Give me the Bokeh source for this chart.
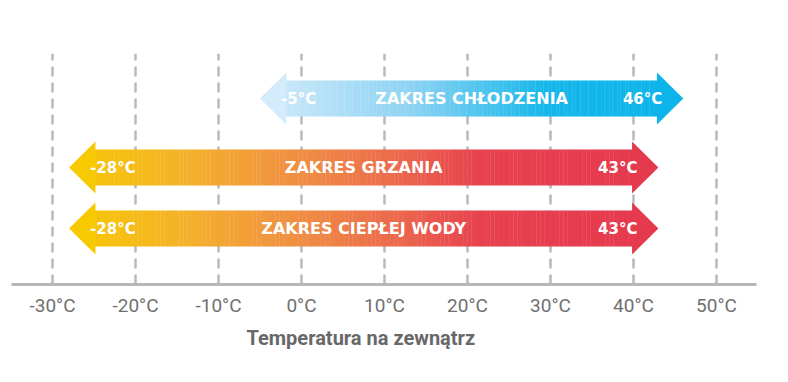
import numpy as np
from bokeh.plotting import figure
from bokeh.models import Range1d, FixedTicker, Title
from bokeh.core.properties import value
from bokeh.embed import file_html
from bokeh.resources import INLINE

# ---------------- data ----------------
tick_values = [-30, -20, -10, 0, 10, 20, 30, 40, 50]
tick_labels = ["-30°C", "-20°C", "-10°C", "0°C", "10°C", "20°C", "30°C", "40°C", "50°C"]

range_names = ["ZAKRES CHŁODZENIA", "ZAKRES GRZANIA", "ZAKRES CIEPŁEJ WODY"]
range_min = [-5, -28, -28]
range_max = [46, 43, 43]
min_labels = ["-5°C", "-28°C", "-28°C"]
max_labels = ["46°C", "43°C", "43°C"]
axis_title = "Temperatura na zewnątrz"

# ---------------- style / layout ----------------
X_START, X_END = -34.94, 54.82
FRAME_W, FRAME_H = 745, 231
row_y = [186, 117, 56]          # vertical centre of each arrow (px above axis)
BODY_HALF = 18
HEAD_HALF = 26
HEAD_LEN_PX = 26
LABEL_PAD_PX = 21

px_per_deg = FRAME_W / (X_END - X_START)
head_len = HEAD_LEN_PX / px_per_deg
label_pad = LABEL_PAD_PX / px_per_deg

blue_stops = [(0.0, "#d3ebfa"), (0.35, "#8fd3f3"), (0.68, "#14b7ea"), (1.0, "#0db4ea")]
warm_stops = [(0.0, "#f7c900"), (0.2, "#f4b12b"), (0.4, "#ef8c44"), (0.55, "#ec6a4c"),
              (0.7, "#e7414f"), (1.0, "#e5394e")]
row_stops = [blue_stops, warm_stops, warm_stops]


def hex2rgb(h):
    h = h.lstrip("#")
    return np.array([int(h[i:i + 2], 16) for i in (0, 2, 4)], dtype=float)


def color_at(stops, t):
    t = min(max(t, 0.0), 1.0)
    for (t0, c0), (t1, c1) in zip(stops[:-1], stops[1:]):
        if t <= t1:
            f = 0 if t1 == t0 else (t - t0) / (t1 - t0)
            c = hex2rgb(c0) * (1 - f) + hex2rgb(c1) * f
            return "#%02x%02x%02x" % tuple(int(round(v)) for v in c)
    return stops[-1][1]


p = figure(
    frame_width=FRAME_W, frame_height=FRAME_H,
    x_range=Range1d(X_START, X_END), y_range=Range1d(0, FRAME_H),
    y_axis_location=None, toolbar_location=None, output_backend="svg",
    min_border_left=11, min_border_right=8, min_border_top=53, min_border_bottom=6,
)
p.outline_line_color = None
p.background_fill_color = "white"
p.border_fill_color = "white"

# grid
p.ygrid.visible = False
p.xgrid.ticker = FixedTicker(ticks=tick_values)
p.xgrid.grid_line_color = "#b9b9b9"
p.xgrid.grid_line_width = 2.5
p.xgrid.grid_line_dash = "10 6"

# axis
ax = p.xaxis[0]
ax.ticker = FixedTicker(ticks=tick_values)
ax.major_label_overrides = {v: l for v, l in zip(tick_values, tick_labels)}
ax.axis_line_color = "#b7b7b7"
ax.axis_line_width = 3
ax.major_tick_line_color = None
ax.minor_tick_line_color = None
ax.major_tick_out = 0
ax.major_tick_in = 0
ax.major_label_standoff = 9
ax.major_label_text_font = "Roboto"
ax.major_label_text_font_size = "19px"
ax.major_label_text_color = "#707070"

p.add_layout(Title(text=axis_title, align="left", offset=235,
                   text_font="Roboto", text_font_size="20px", text_font_style="bold",
                   text_color="#686868", standoff=9), "below")

# arrows
N = 140
for i in range(len(range_names)):
    lo, hi, yc = range_min[i], range_max[i], row_y[i]
    stops = row_stops[i]
    xs = np.linspace(lo + head_len, hi - head_len, N + 1)
    mids = (xs[:-1] + xs[1:]) / 2
    cols = [color_at(stops, (m - lo) / (hi - lo)) for m in mids]
    overlap = 0.04
    p.quad(left=xs[:-1], right=xs[1:] + overlap, bottom=yc - BODY_HALF, top=yc + BODY_HALF,
           fill_color=cols, line_color=None)
    # heads
    p.patch(x=[lo, lo + head_len + overlap, lo + head_len + overlap],
            y=[yc, yc + HEAD_HALF, yc - HEAD_HALF],
            fill_color=color_at(stops, 0.0), line_color=None)
    p.patch(x=[hi, hi - head_len - overlap, hi - head_len - overlap],
            y=[yc, yc + HEAD_HALF, yc - HEAD_HALF],
            fill_color=color_at(stops, 1.0), line_color=None)

    end_style = dict(text_font=value("DejaVu Sans"), text_font_style="bold",
                     text_font_size="15px", text_color="white", text_baseline="middle")
    mid_style = dict(end_style, text_font_size="16px")
    p.text(x=[lo + label_pad], y=[yc], text=[min_labels[i]], text_align="left", **end_style)
    p.text(x=[hi - label_pad], y=[yc], text=[max_labels[i]], text_align="right", **end_style)
    p.text(x=[(lo + hi) / 2], y=[yc], text=[range_names[i]], text_align="center", **mid_style)

open("out.html", "w").write(file_html(p, INLINE))
